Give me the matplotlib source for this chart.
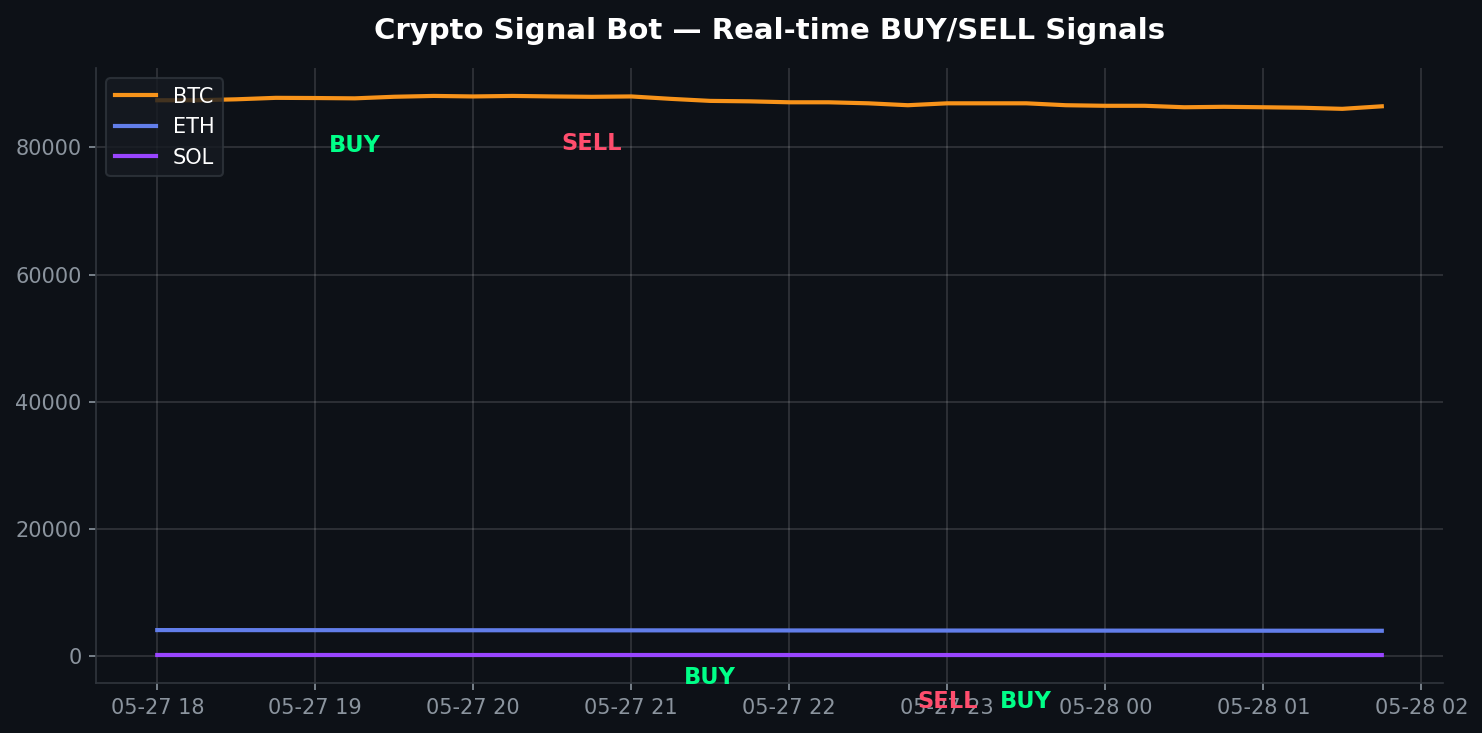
import matplotlib
matplotlib.use("Agg")
import matplotlib.pyplot as plt
import matplotlib.dates as mdates
import pandas as pd

times = pd.date_range("2025-05-27 18:00", periods=32, freq="15min")

btc = [87400, 87400, 87550, 87780, 87750, 87700, 87950, 88080,
       88000, 88080, 88000, 87940, 88000, 87620, 87300, 87230,
       87080, 87080, 86920, 86620, 86920, 86920, 86920, 86620,
       86530, 86530, 86300, 86370, 86300, 86220, 86050, 86450]
eth = [4090, 4088, 4085, 4080, 4078, 4075, 4070, 4066,
       4062, 4060, 4055, 4052, 4048, 4045, 4040, 4036,
       4032, 4030, 4026, 4020, 4018, 4015, 4012, 4008,
       4005, 4002, 3998, 3995, 3992, 3988, 3985, 3982]
sol = [172, 172, 171, 171, 171, 170, 170, 170,
       170, 169, 169, 169, 169, 168, 168, 168,
       168, 167, 167, 167, 167, 166, 166, 166,
       166, 165, 165, 165, 165, 164, 164, 164]

series_names = ["BTC", "ETH", "SOL"]
series_colors = ["#f7931a", "#627eea", "#9945ff"]

signal_labels = ["BUY", "SELL", "BUY", "SELL", "BUY"]
signal_assets = ["BTC", "BTC", "ETH", "SOL", "SOL"]
signal_index = [5, 11, 14, 20, 22]
signal_colors = {"BUY": "#00ff88", "SELL": "#ff4d6d"}

bg = "#0d1117"
fig = plt.figure(figsize=(9.88, 4.887), dpi=150, facecolor=bg)
ax = fig.add_axes([0.0648, 0.0682, 0.9089, 0.839])
ax.set_facecolor(bg)

data = {"BTC": btc, "ETH": eth, "SOL": sol}
for name, col in zip(series_names, series_colors):
    ax.plot(times, data[name], color=col, lw=2, label=name)

for lab, asset, idx in zip(signal_labels, signal_assets, signal_index):
    ax.annotate(lab, xy=(times[idx], data[asset][idx]), xytext=(0, -22.5),
                textcoords="offset points", ha="center", va="center",
                color=signal_colors[lab], fontsize=10.8, fontweight="bold",
                annotation_clip=False)

ax.xaxis.set_major_locator(mdates.HourLocator())
ax.xaxis.set_major_formatter(mdates.DateFormatter("%m-%d %H"))
ax.grid(True, color="#ffffff", alpha=0.15, lw=0.8)
ax.tick_params(colors="#8b949e", labelsize=10)
for s in ["top", "right"]:
    ax.spines[s].set_visible(False)
for s in ["left", "bottom"]:
    ax.spines[s].set_color("#30363d")

ax.set_title("Crypto Signal Bot — Real-time BUY/SELL Signals", color="white",
             fontsize=14, fontweight="bold", pad=14)
leg = ax.legend(loc="upper left", facecolor="#161b22", edgecolor="#30363d",
                labelcolor="white", fontsize=10)

fig.savefig("out.png", dpi=150, facecolor=bg)
